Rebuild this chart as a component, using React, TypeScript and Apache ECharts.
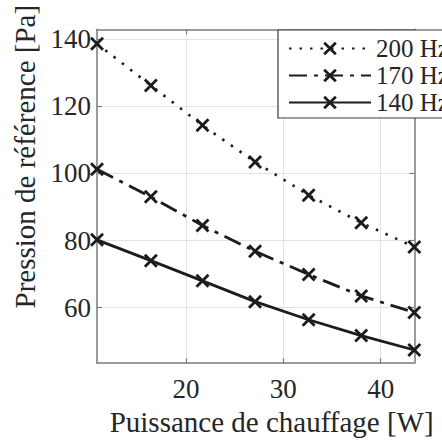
import React, { useEffect, useRef } from "react";
import * as echarts from "echarts";

const power = [10.87, 16.4, 21.7, 27.1, 32.6, 38.0, 43.45];
const p200 = [138.6, 126.2, 114.3, 103.4, 93.5, 85.3, 78.1];
const p170 = [101.2, 93.0, 84.5, 76.8, 69.9, 63.5, 58.6];
const p140 = [80.2, 74.0, 68.0, 61.8, 56.4, 51.7, 47.4];
const seriesNames = ["200 Hz", "170 Hz", "140 Hz"];
const xTicks = [20, 30, 40];
const yTicks = [60, 80, 100, 120, 140];

const FONT = "Liberation Serif";
const INK = "#1c1c1c";
const XSYM =
  "path://M2,0 L7,5 L12,0 L14,2 L9,7 L14,12 L12,14 L7,9 L2,14 L0,12 L5,7 L0,2 Z";

export default function App() {
  const ref = useRef<HTMLDivElement>(null);
  useEffect(() => {
    if (!ref.current) return;
    const chart = echarts.init(ref.current, null, { renderer: "svg" });
    const mk = (name: string, vals: number[], type: any, width: number) => ({
      name,
      type: "line",
      data: power.map((x, i) => [x, vals[i]]),
      symbol: XSYM,
      symbolSize: 14,
      showSymbol: true,
      itemStyle: { color: INK },
      lineStyle: { color: INK, width, type, cap: "butt" },
      emphasis: { disabled: true },
      z: 3,
    });
    const axisLine = { show: true, lineStyle: { color: "#7a7a7a", width: 1.5 } };
    const tick = (vals: number[]) => ({
      show: true,
      inside: true,
      length: 5,
      customValues: vals,
      lineStyle: { color: "#7a7a7a", width: 1.2 },
    });
    chart.setOption({
      animation: false,
      grid: { left: 97, right: 27.7, top: 29.3, bottom: 68.3, containLabel: false },
      legend: {
        orient: "vertical",
        left: 278,
        top: 30,
        padding: [6, 10, 3, 10],
        itemGap: 2,
        itemWidth: 82,
        itemHeight: 17,
        backgroundColor: "#ffffff",
        borderColor: "#3a3a3a",
        borderWidth: 1.2,
        borderRadius: 0,
        textStyle: { fontFamily: FONT, fontSize: 25, color: "#262626" },
        data: seriesNames,
        selectedMode: false,
      },
      xAxis: [
        {
          type: "value",
          min: 10.87,
          max: 43.45,
          position: "bottom",
          name: "Puissance de chauffage [W]",
          nameLocation: "middle",
          nameGap: 36,
          nameTextStyle: { fontFamily: FONT, fontSize: 29, color: "#262626", padding: [0, 0, 0, 32] },
          axisLine,
          axisTick: tick(xTicks),
          axisLabel: {
            customValues: xTicks,
            margin: 12,
            fontFamily: FONT,
            fontSize: 27,
            color: "#262626",
          },
          splitLine: { show: true, lineStyle: { color: "#e3e3e3", width: 1 } },
        },
        {
          type: "value",
          min: 10.87,
          max: 43.45,
          position: "top",
          axisLine,
          axisTick: tick(xTicks),
          axisLabel: { show: false },
          splitLine: { show: false },
        },
      ],
      yAxis: [
        {
          type: "value",
          min: 43.5,
          max: 142.9,
          position: "left",
          name: "Pression de référence [Pa]",
          nameLocation: "middle",
          nameRotate: 90,
          nameGap: 57,
          nameTextStyle: { fontFamily: FONT, fontSize: 29, color: "#262626", padding: [0, 0, 0, 79] },
          axisLine,
          axisTick: tick(yTicks),
          axisLabel: {
            customValues: yTicks,
            margin: 6,
            fontFamily: FONT,
            fontSize: 27,
            color: "#262626",
          },
          splitLine: { show: true, lineStyle: { color: "#e3e3e3", width: 1 } },
        },
        {
          type: "value",
          min: 43.5,
          max: 142.9,
          position: "right",
          axisLine,
          axisTick: tick(yTicks),
          axisLabel: { show: false },
          splitLine: { show: false },
        },
      ],
      series: [
        mk(seriesNames[0], p200, [2.5, 8], 2.6),
        mk(seriesNames[1], p170, [18, 7, 4, 7], 2.8),
        mk(seriesNames[2], p140, "solid", 2.8),
      ],
    });
    return () => chart.dispose();
  }, []);
  return (
    <div
      ref={ref}
      style={{ position: "fixed", left: 0, top: 0, width: 442, height: 441, background: "#fff" }}
    />
  );
}
